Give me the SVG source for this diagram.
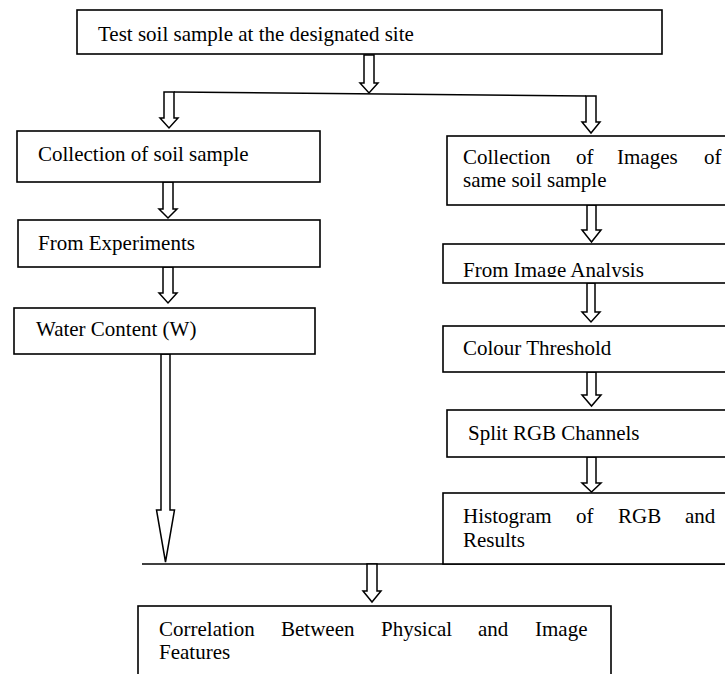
<svg xmlns="http://www.w3.org/2000/svg" width="725" height="674" viewBox="0 0 725 674">
<style>
  .box { fill: #fff; stroke: #000; stroke-width: 1.6; }
  .arr { fill: #fff; stroke: #000; stroke-width: 1.5; stroke-linejoin: miter; }
  .ln { stroke: #000; stroke-width: 1.6; fill: none; }
  text { font-family: "Liberation Serif", "Times New Roman", serif; font-size: 21px; fill: #000; }
</style>
<defs>
  <clipPath id="clipAnalysis"><rect x="443" y="244" width="290" height="33"/></clipPath>
</defs>
<rect width="725" height="674" fill="#fff"/>

<g id="connectors">
  <line class="ln" x1="174" y1="92" x2="586" y2="96"/>
  <line class="ln" x1="142" y1="564" x2="725" y2="564"/>
  <path class="arr" d="M364,55 V83 H360 L369,93 L378,83 H374 V55 Z"/>
  <path class="arr" d="M164,92 V118 H160 L169,128 L178,118 H174 V92 Z"/>
  <path class="arr" d="M586,96 V122 H582 L591,133 L600,122 H596 V96 Z"/>
  <path class="arr" d="M163,182 V209 H159 L168,218 L177,209 H173 V182 Z"/>
  <path class="arr" d="M163,267 V293 H159 L168,303 L177,293 H173 V267 Z"/>
  <path class="arr" d="M161,354 V510 H156.5 L165.5,562 L174.5,510 H170 V354 Z"/>
  <path class="arr" d="M587,205 V230 H582 L591.5,242 L601,230 H596 V205 Z"/>
  <path class="arr" d="M587,283 V312 H582 L591,322 L600,312 H595 V283 Z"/>
  <path class="arr" d="M587,372 V395 H582 L591.5,406 L601,395 H596 V372 Z"/>
  <path class="arr" d="M587,457 V483 H582 L591.5,492 L601,483 H596 V457 Z"/>
  <path class="arr" d="M367,564 V591 H363 L372,602 L381,591 H377 V564 Z"/>
</g>

<g id="node-test-site">
  <rect class="box" x="77" y="10" width="585" height="44"/>
  <text x="98" y="41">Test soil sample at the designated site</text>
</g>

<g id="node-collection-soil">
  <rect class="box" x="17" y="131" width="303" height="51"/>
  <text x="38" y="161">Collection of soil sample</text>
</g>

<g id="node-experiments">
  <rect class="box" x="18" y="220" width="302" height="47"/>
  <text x="38" y="250">From Experiments</text>
</g>

<g id="node-water-content">
  <rect class="box" x="14" y="308" width="301" height="46"/>
  <text x="36" y="336">Water Content (W)</text>
</g>

<g id="node-collection-images">
  <rect class="box" x="447" y="136" width="282" height="69"/>
  <text y="164"><tspan x="463">Collection</tspan><tspan x="576">of</tspan><tspan x="617">Images</tspan><tspan x="704">of</tspan></text>
  <text x="463" y="187">same soil sample</text>
</g>

<g id="node-image-analysis">
  <rect class="box" x="443" y="244" width="286" height="39"/>
  <text x="463" y="277" clip-path="url(#clipAnalysis)">From Image Analysis</text>
</g>

<g id="node-colour-threshold">
  <rect class="box" x="443" y="326" width="286" height="46"/>
  <text x="463" y="355">Colour Threshold</text>
</g>

<g id="node-split-rgb">
  <rect class="box" x="447" y="410" width="282" height="47"/>
  <text x="468" y="440">Split RGB Channels</text>
</g>

<g id="node-histogram">
  <rect class="box" x="443" y="493" width="286" height="71"/>
  <text y="523"><tspan x="463">Histogram</tspan><tspan x="576">of</tspan><tspan x="618">RGB</tspan><tspan x="685">and</tspan></text>
  <text x="463" y="547">Results</text>
</g>

<g id="node-correlation">
  <rect class="box" x="138" y="606" width="473" height="80"/>
  <text y="636"><tspan x="159">Correlation</tspan><tspan x="281">Between</tspan><tspan x="381">Physical</tspan><tspan x="478">and</tspan><tspan x="535">Image</tspan></text>
  <text x="159" y="659">Features</text>
</g>
</svg>
